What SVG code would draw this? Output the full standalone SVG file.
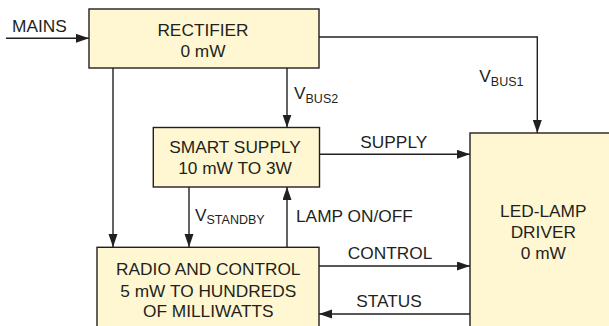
<svg xmlns="http://www.w3.org/2000/svg" width="609" height="326" viewBox="0 0 609 326">
<defs>
<style>
.box{fill:#FEF7D1;stroke:#231F20;stroke-width:1.4}
.ln{fill:none;stroke:#231F20;stroke-width:1.4}
.arr{marker-end:url(#ah)}
text{font-family:"Liberation Sans",Arial,sans-serif;font-size:17.3px;fill:#231F20}
.c{text-anchor:middle}
.sub{font-size:12.5px}
</style>
<marker id="ah" markerUnits="userSpaceOnUse" markerWidth="14" markerHeight="10" refX="13" refY="4.5" orient="auto">
<path d="M0,0 L13,4.5 L0,9 z" fill="#231F20"/>
</marker>
</defs>
<rect width="609" height="326" fill="#ffffff"/>
<g id="connectors">
<line class="ln arr" x1="6" y1="38.3" x2="89" y2="38.3"/>
<line class="ln arr" x1="113" y1="68" x2="113" y2="247"/>
<line class="ln arr" x1="287" y1="68" x2="287" y2="127.5"/>
<polyline class="ln arr" points="319,37 537.3,37 537.3,133"/>
<line class="ln arr" x1="320" y1="154.3" x2="470" y2="154.3"/>
<line class="ln arr" x1="189" y1="187" x2="189" y2="247"/>
<line class="ln arr" x1="287" y1="247" x2="287" y2="187"/>
<line class="ln arr" x1="319" y1="266" x2="470" y2="266"/>
<line class="ln arr" x1="470" y1="314" x2="319" y2="314"/>
<text x="12" y="32">MAINS</text>
<text x="294" y="99.3">V<tspan class="sub" dy="4">BUS2</tspan></text>
<text x="479.3" y="81.7">V<tspan class="sub" dy="4.5">BUS1</tspan></text>
<text class="c" x="393.8" y="148.3">SUPPLY</text>
<text x="195" y="220.5">V<tspan class="sub" dy="3.5">STANDBY</tspan></text>
<text x="296" y="221.7">LAMP ON/OFF</text>
<text class="c" x="390" y="259">CONTROL</text>
<text class="c" x="389" y="306.7">STATUS</text>
</g>
<g id="rectifier">
<rect class="box" x="89" y="9" width="230" height="59"/>
<text class="c" x="203" y="35.7">RECTIFIER</text>
<text class="c" x="203" y="56.7">0 mW</text>
</g>
<g id="smart-supply">
<rect class="box" x="153.3" y="127.5" width="166.2" height="59.5"/>
<text class="c" x="235" y="153.3">SMART SUPPLY</text>
<text class="c" x="235" y="174.3">10 mW TO 3W</text>
</g>
<g id="radio-control">
<rect class="box" x="97" y="247.3" width="222" height="100"/>
<text class="c" x="208.3" y="275">RADIO AND CONTROL</text>
<text class="c" x="208.3" y="296.7">5 mW TO HUNDREDS</text>
<text class="c" x="208.3" y="316.7">OF MILLIWATTS</text>
</g>
<g id="led-driver">
<rect class="box" x="470" y="133" width="160" height="220"/>
<text class="c" x="543.3" y="217.3">LED-LAMP</text>
<text class="c" x="543.3" y="237.7">DRIVER</text>
<text class="c" x="543.3" y="258.7">0 mW</text>
</g>
</svg>
